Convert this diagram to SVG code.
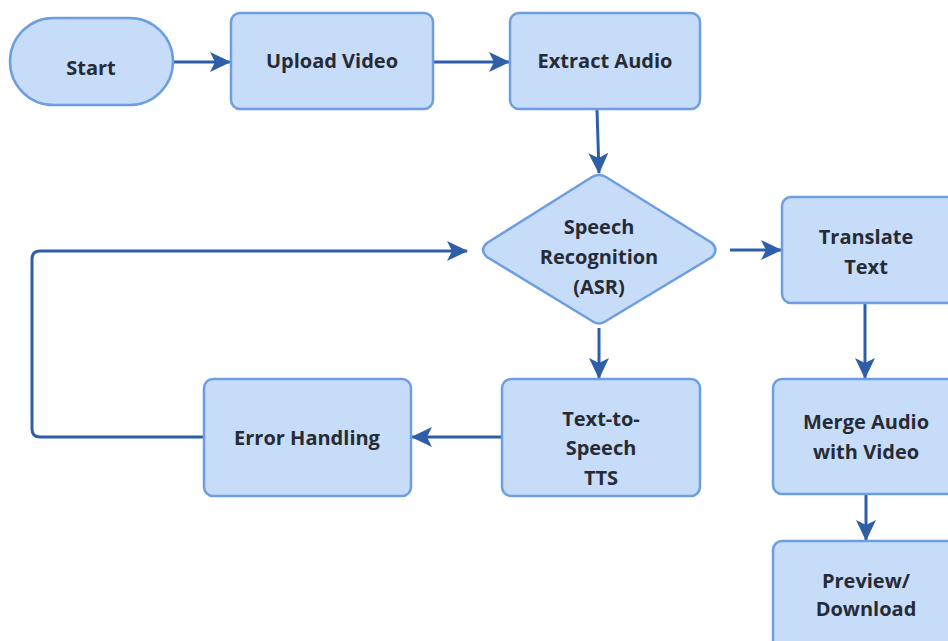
<svg xmlns="http://www.w3.org/2000/svg" width="948" height="641" viewBox="0 0 948 641">
<defs>
<style>
.n{fill:#c6dcf9;stroke:#6d9ee2;stroke-width:2.5}
.t{font-family:"Open Sans","Noto Sans","DejaVu Sans",sans-serif;font-weight:bold;font-size:20px;fill:#262b36;text-anchor:middle}
.c{fill:none;stroke:#2f5ea8;stroke-width:3;marker-end:url(#ah)}
</style>
<marker id="ah" viewBox="0 0 22 22" refX="20" refY="11" markerWidth="22" markerHeight="22" orient="auto" markerUnits="userSpaceOnUse">
<path d="M0,1 L21,11 L0,21 L5,11 Z" fill="#2f5ea8"/>
</marker>
</defs>
<g id="connectors">
<path class="c" d="M173,62 H230"/>
<path class="c" d="M433,62 H509"/>
<path class="c" d="M597,110 L599,173"/>
<path class="c" d="M730,250 H781"/>
<path class="c" d="M865,304 V378"/>
<path class="c" d="M866,495 V540"/>
<path class="c" d="M599,328 V378"/>
<path class="c" d="M502,437 H412"/>
<path class="c" d="M204,437 H40 Q32,437 32,429 V259 Q32,251 40,251 H467"/>
</g>
<g id="start">
<rect class="n" x="10" y="18" width="163" height="87" rx="43.5"/>
<text class="t" x="91" y="75">Start</text>
</g>
<g id="upload">
<rect class="n" x="231" y="13" width="202" height="96" rx="9"/>
<text class="t" x="332" y="68">Upload Video</text>
</g>
<g id="extract">
<rect class="n" x="510" y="13" width="190" height="96" rx="9"/>
<text class="t" x="605" y="68">Extract Audio</text>
</g>
<g id="asr">
<path class="n" d="M592,177 Q599,173 606,177 L712,243 Q719,250 712,257 L606,321 Q599,326 592,321 L487,257 Q479,250 487,243 Z"/>
<text class="t" x="599" y="234">Speech</text>
<text class="t" x="599" y="264">Recognition</text>
<text class="t" x="599" y="294">(ASR)</text>
</g>
<g id="translate">
<rect class="n" x="782" y="197" width="180" height="106" rx="9"/>
<text class="t" x="866" y="244">Translate</text>
<text class="t" x="866" y="274">Text</text>
</g>
<g id="merge">
<rect class="n" x="773" y="379" width="190" height="115" rx="9"/>
<text class="t" x="866" y="429">Merge Audio</text>
<text class="t" x="866" y="459">with Video</text>
</g>
<g id="preview">
<rect class="n" x="773" y="541" width="190" height="115" rx="9"/>
<text class="t" x="866" y="588">Preview/</text>
<text class="t" x="866" y="616">Download</text>
</g>
<g id="tts">
<rect class="n" x="502" y="379" width="198" height="117" rx="9"/>
<text class="t" x="601" y="426">Text-to-</text>
<text class="t" x="601" y="455">Speech</text>
<text class="t" x="601" y="485">TTS</text>
</g>
<g id="error">
<rect class="n" x="204" y="379" width="207" height="117" rx="9"/>
<text class="t" x="307" y="445">Error Handling</text>
</g>
</svg>
